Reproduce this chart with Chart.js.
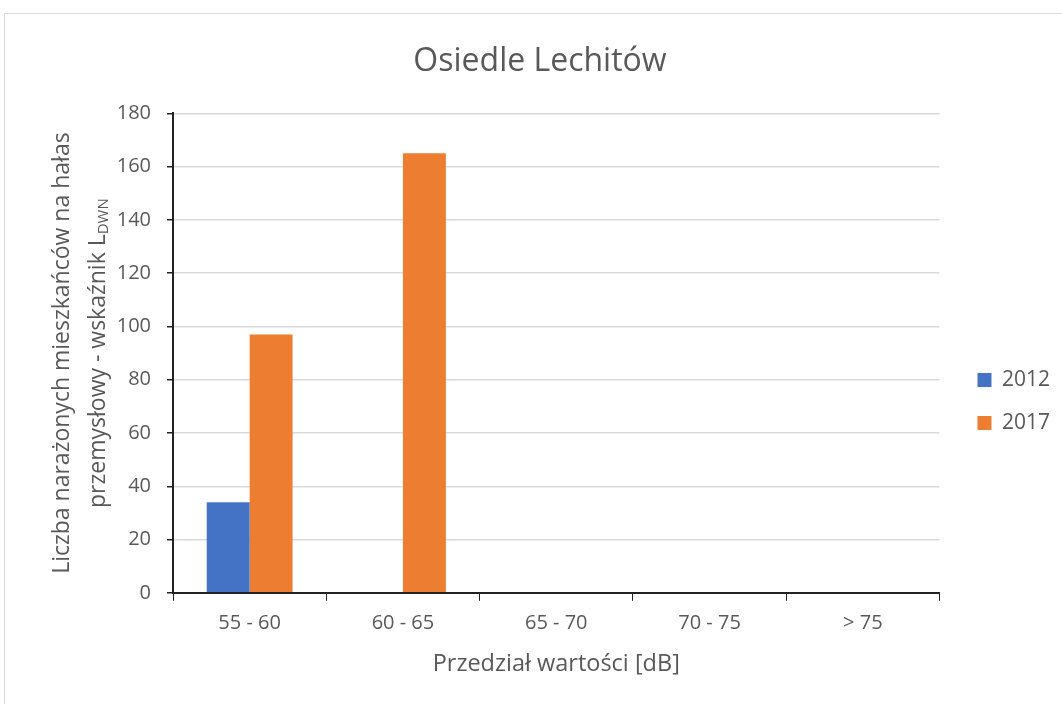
<!DOCTYPE html>
<html>
<head>
<meta charset="utf-8">
<script src="https://cdn.jsdelivr.net/npm/chart.js@4"></script>
<style>
  html, body { margin: 0; padding: 0; background: #fff; overflow: hidden; }
  #frame { position: absolute; left: 4px; top: 13px; width: 1200px; height: 800px; border: 1px solid #d9d9d9; box-sizing: border-box; }
  #wrap { position: absolute; left: 0; top: 0; width: 1062px; height: 704px; }
</style>
</head>
<body>
<div id="frame"></div>
<div id="wrap"><canvas id="c" width="1062" height="704"></canvas></div>
<script>
const categories = ['55 - 60', '60 - 65', '65 - 70', '70 - 75', '> 75'];
const series2012 = [34, 0, 0, 0, 0];
const series2017 = [97, 165, 0, 0, 0];
const seriesNames = ['2012', '2017'];
const yTitleLine1 = 'Liczba narażonych mieszkańców na hałas';
const yTitleLine2Main = 'przemysłowy - wskaźnik L';
const yTitleLine2Sub = 'DWN';
const FONT = '"Open Sans", sans-serif';
const LEGEND_EXTRA = 16;

const yTitlePlugin = {
  id: 'yTitle',
  afterDraw(chart) {
    const ctx = chart.ctx;
    const area = chart.chartArea;
    const cy = (area.top + area.bottom) / 2;
    ctx.save();
    ctx.fillStyle = '#595959';
    ctx.textBaseline = 'middle';
    ctx.textAlign = 'center';
    ctx.save();
    ctx.translate(62, cy);
    ctx.rotate(-Math.PI / 2);
    ctx.font = '23px ' + FONT;
    ctx.fillText(yTitleLine1, 0, 0);
    ctx.restore();
    ctx.save();
    ctx.translate(98, cy);
    ctx.rotate(-Math.PI / 2);
    ctx.font = '23px ' + FONT;
    const w1 = ctx.measureText(yTitleLine2Main).width;
    ctx.font = '15px ' + FONT;
    const w2 = ctx.measureText(yTitleLine2Sub).width;
    const total = w1 + w2;
    ctx.textAlign = 'left';
    ctx.font = '23px ' + FONT;
    ctx.fillText(yTitleLine2Main, -total / 2, 0);
    ctx.font = '15px ' + FONT;
    ctx.fillText(yTitleLine2Sub, -total / 2 + w1, 6);
    ctx.restore();
    ctx.restore();
  }
};

// widen the legend's reserved space so the plot ends where the reference does,
// while keeping the legend items drawn at the same place
const legendSpacePlugin = {
  id: 'legendSpace',
  beforeLayout(chart) {
    const lg = chart.legend;
    if (lg && !lg._wrappedFit) {
      const orig = lg.fit;
      lg.fit = function () { orig.call(this); this.width += LEGEND_EXTRA; };
      lg._wrappedFit = true;
    }
  },
  afterLayout(chart) {
    const lg = chart.legend;
    if (lg) { lg.left += LEGEND_EXTRA; lg.right += LEGEND_EXTRA; }
  }
};

new Chart(document.getElementById('c'), {
  type: 'bar',
  data: {
    labels: categories,
    datasets: [
      { label: seriesNames[0], data: series2012, backgroundColor: '#4472c4', borderWidth: 0 },
      { label: seriesNames[1], data: series2017, backgroundColor: '#ed7d31', borderWidth: 0 }
    ]
  },
  options: {
    responsive: false,
    animation: false,
    devicePixelRatio: 1,
    layout: { padding: { left: 20, right: 2, top: 29, bottom: 26 } },
    datasets: { bar: { categoryPercentage: 0.56, barPercentage: 1.0 } },
    plugins: {
      title: {
        display: true,
        text: 'Osiedle Lechitów',
        color: '#595959',
        font: { family: FONT, size: 32, weight: 'normal' },
        padding: { top: 14, bottom: 32 }
      },
      legend: {
        position: 'right',
        align: 'center',
        title: { display: true, text: ' ', color: 'rgba(0,0,0,0)', font: { size: 10 }, padding: 42 },
        labels: {
          color: '#595959',
          font: { family: FONT, size: 21 },
          boxWidth: 14,
          boxHeight: 14,
          padding: 22
        }
      },
      tooltip: { enabled: false }
    },
    scales: {
      x: {
        grid: { display: true, drawOnChartArea: false, drawTicks: true, tickLength: 8, tickColor: '#222', offset: true },
        border: { display: true, color: '#222', width: 2 },
        ticks: { color: '#595959', font: { family: FONT, size: 20 }, padding: 10 },
        title: { display: true, text: 'Przedział wartości [dB]', color: '#595959', font: { family: FONT, size: 23.5 }, padding: { top: 5, bottom: 0 } }
      },
      y: {
        min: 0, max: 180,
        afterFit(scale) { scale.width = 153; },
        ticks: { stepSize: 20, color: '#595959', font: { family: FONT, size: 20 }, padding: 16 },
        grid: { color: '#d9d9d9', lineWidth: 1.5, drawTicks: true, tickLength: 6, tickColor: '#222' },
        border: { display: true, color: '#222', width: 2 }
      }
    }
  },
  plugins: [yTitlePlugin, legendSpacePlugin]
});
</script>
</body>
</html>
